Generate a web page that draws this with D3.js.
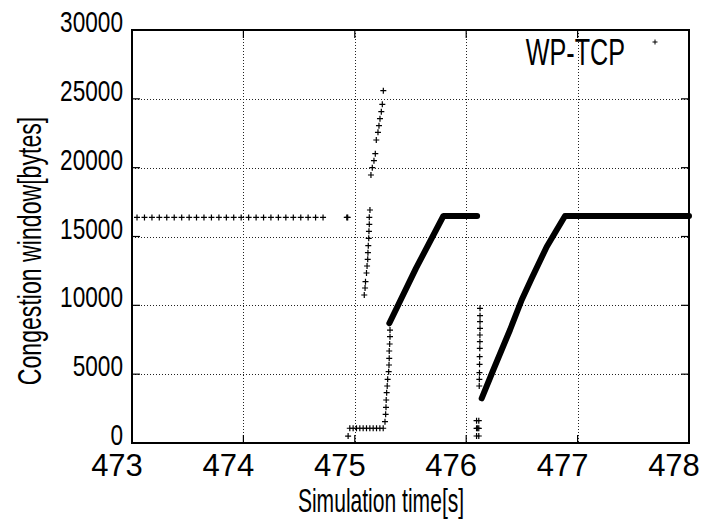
<!DOCTYPE html>
<html>
<head>
<meta charset="utf-8">
<script src="https://cdn.jsdelivr.net/npm/d3@7"></script>
<style>
  body { margin: 0; background: #fff; }
  text { font-family: "Liberation Sans", Arial, Helvetica, sans-serif; fill: #000; }
</style>
</head>
<body>
<div id="chart"></div>
<script>
// tick labels
const xTicks = [473, 474, 475, 476, 477, 478];
const yTicks = [0, 5000, 10000, 15000, 20000, 25000, 30000];

// sparse '+' samples: time [s], congestion window [bytes]
const idleTimes = [473.045, 473.112, 473.179, 473.245, 473.312, 473.379, 473.446, 473.513,
  473.579, 473.646, 473.713, 473.780, 473.847, 473.913, 473.980, 474.047, 474.114, 474.181,
  474.247, 474.314, 474.381, 474.448, 474.515, 474.581, 474.648, 474.715, 474.928, 474.936];
const idleCwnd = idleTimes.map(() => 16384);

const burstLowTimes = [475.136, 475.130, 475.130, 475.127, 475.125, 475.121, 475.118,
  475.116, 475.110, 475.105, 475.096, 475.092, 475.085];
const burstLowCwnd = [16925, 16395, 15887, 15378, 14870, 14333, 13824, 13344, 12857,
  12349, 11717, 11259, 10751];

const burstHighTimes = [475.256, 475.247, 475.238, 475.226, 475.217, 475.208, 475.193,
  475.184, 475.172, 475.157, 475.145];
const burstHighCwnd = [25591, 24603, 24066, 23557, 23049, 22570, 22010, 21015, 20507,
  19998, 19468];

const restartTimes = [474.940, 474.955, 474.985, 475.015, 475.045, 475.075, 475.105,
  475.135, 475.165, 475.195, 475.225, 475.255,
  475.271, 475.277, 475.280, 475.282, 475.286, 475.291, 475.295, 475.304, 475.307,
  475.309, 475.309, 475.313, 475.316, 475.316];
const restartCwnd = [500, 1072, 1072, 1072, 1072, 1072, 1072, 1072, 1072, 1072, 1072, 1072,
  1550, 2085, 2593, 3123, 3655, 4140, 4627, 5180, 5666, 6150, 6682, 7190, 7725, 8200];

const lossTimes = [476.124, 476.124, 476.124, 476.124, 476.123, 476.123, 476.122, 476.121,
  476.120, 476.119, 476.118, 476.117,
  476.093, 476.113, 476.093, 476.103, 476.113, 476.093, 476.113];
const lossCwnd = [9785, 9247, 8811, 8332, 7845, 7358, 6879, 6269, 5717, 5107, 4627, 4140,
  1620, 1620, 1068, 1068, 1068, 508, 508];

// dense runs of samples (drawn as a heavy trace)
const run1Times = [475.310, 475.550, 475.795, 476.098];
const run1Cwnd = [8695, 12700, 16490, 16490];
const run2Times = [476.139, 476.243, 476.393, 476.498, 476.588, 476.723, 476.812, 476.887, 478.0];
const run2Cwnd = [3247, 5303, 8208, 10388, 11964, 14260, 15472, 16490, 16490];

const width = 706, height = 525;
const m = { left: 132, right: 689, top: 30, bottom: 443 };

const x = d3.scaleLinear().domain([473, 478]).range([m.left, m.right]);
const y = d3.scaleLinear().domain([0, 30000]).range([m.bottom, m.top]);

const svg = d3.select('#chart').append('svg')
  .attr('width', width).attr('height', height);

// grid (snapped to pixel centres so the dots stay dark)
const snap = v => Math.round(v) + 0.5;
svg.append('g').selectAll('line')
  .data(xTicks.slice(1, -1)).enter().append('line')
  .attr('x1', d => snap(x(d))).attr('x2', d => snap(x(d)))
  .attr('y1', m.top).attr('y2', m.bottom)
  .attr('stroke', '#222').attr('stroke-dasharray', '1,2');
svg.append('g').selectAll('line')
  .data(yTicks.slice(1, -1)).enter().append('line')
  .attr('x1', m.left).attr('x2', m.right)
  .attr('y1', d => snap(y(d))).attr('y2', d => snap(y(d)))
  .attr('stroke', '#222').attr('stroke-dasharray', '1,2');

// '+' markers
const plus = 'M-3,0H3M0,-3V3';
const groups = [
  [idleTimes, idleCwnd],
  [burstLowTimes, burstLowCwnd],
  [burstHighTimes, burstHighCwnd],
  [restartTimes, restartCwnd],
  [lossTimes, lossCwnd]
];
groups.forEach(([ts, cs]) => {
  svg.append('g').selectAll('path')
    .data(ts.map((t, i) => [t, cs[i]])).enter().append('path')
    .attr('transform', d => `translate(${x(d[0])},${y(d[1])})`)
    .attr('d', plus)
    .attr('stroke', '#000').attr('stroke-width', 1.2).attr('fill', 'none');
});

// dense traces
const line = d3.line().x(d => x(d[0])).y(d => y(d[1]));
[[run1Times, run1Cwnd], [run2Times, run2Cwnd]].forEach(([ts, cs]) => {
  svg.append('path')
    .datum(ts.map((t, i) => [t, cs[i]]))
    .attr('d', line)
    .attr('fill', 'none').attr('stroke', '#000')
    .attr('stroke-width', 6).attr('stroke-linecap', 'round').attr('stroke-linejoin', 'round');
});

// frame
svg.append('rect')
  .attr('x', m.left).attr('y', m.top)
  .attr('width', m.right - m.left).attr('height', m.bottom - m.top)
  .attr('fill', 'none').attr('stroke', '#000').attr('stroke-width', 2);

// ticks (mirrored)
const tk = svg.append('g').attr('stroke', '#000').attr('stroke-width', 1.2);
yTicks.slice(1, -1).forEach(v => {
  tk.append('line').attr('x1', m.left).attr('x2', m.left + 8).attr('y1', y(v)).attr('y2', y(v));
  tk.append('line').attr('x1', m.right - 8).attr('x2', m.right).attr('y1', y(v)).attr('y2', y(v));
});
xTicks.slice(1, -1).forEach(v => {
  tk.append('line').attr('x1', x(v)).attr('x2', x(v)).attr('y1', m.bottom).attr('y2', m.bottom - 8);
  tk.append('line').attr('x1', x(v)).attr('x2', x(v)).attr('y1', m.top).attr('y2', m.top + 8);
});

// tick labels
svg.append('g').selectAll('text')
  .data(xTicks).enter().append('text')
  .attr('x', d => x(d) - 15).attr('y', 476)
  .attr('text-anchor', 'middle').attr('font-size', 31)
  .text(d => d);

svg.append('g').selectAll('text')
  .data(yTicks).enter().append('text')
  .attr('transform', d => `translate(123,${y(d) + 2}) scale(0.78,1)`)
  .attr('text-anchor', 'end').attr('font-size', 29)
  .text(d => d);

// axis titles
svg.append('text')
  .attr('transform', 'translate(381,512) scale(0.62,1)')
  .attr('text-anchor', 'middle').attr('font-size', 34)
  .text('Simulation time[s]');

svg.append('text')
  .attr('transform', 'translate(41,251) rotate(-90) scale(0.68,1)')
  .attr('text-anchor', 'middle').attr('font-size', 34)
  .text('Congestion window[bytes]');

// legend
svg.append('text')
  .attr('transform', 'translate(625,65) scale(0.68,1)')
  .attr('text-anchor', 'end').attr('font-size', 37)
  .text('WP-TCP');
svg.append('path')
  .attr('transform', 'translate(655,42)')
  .attr('d', 'M-2.5,0H2.5M0,-2.5V2.5')
  .attr('stroke', '#000').attr('stroke-width', 1);
</script>
</body>
</html>
